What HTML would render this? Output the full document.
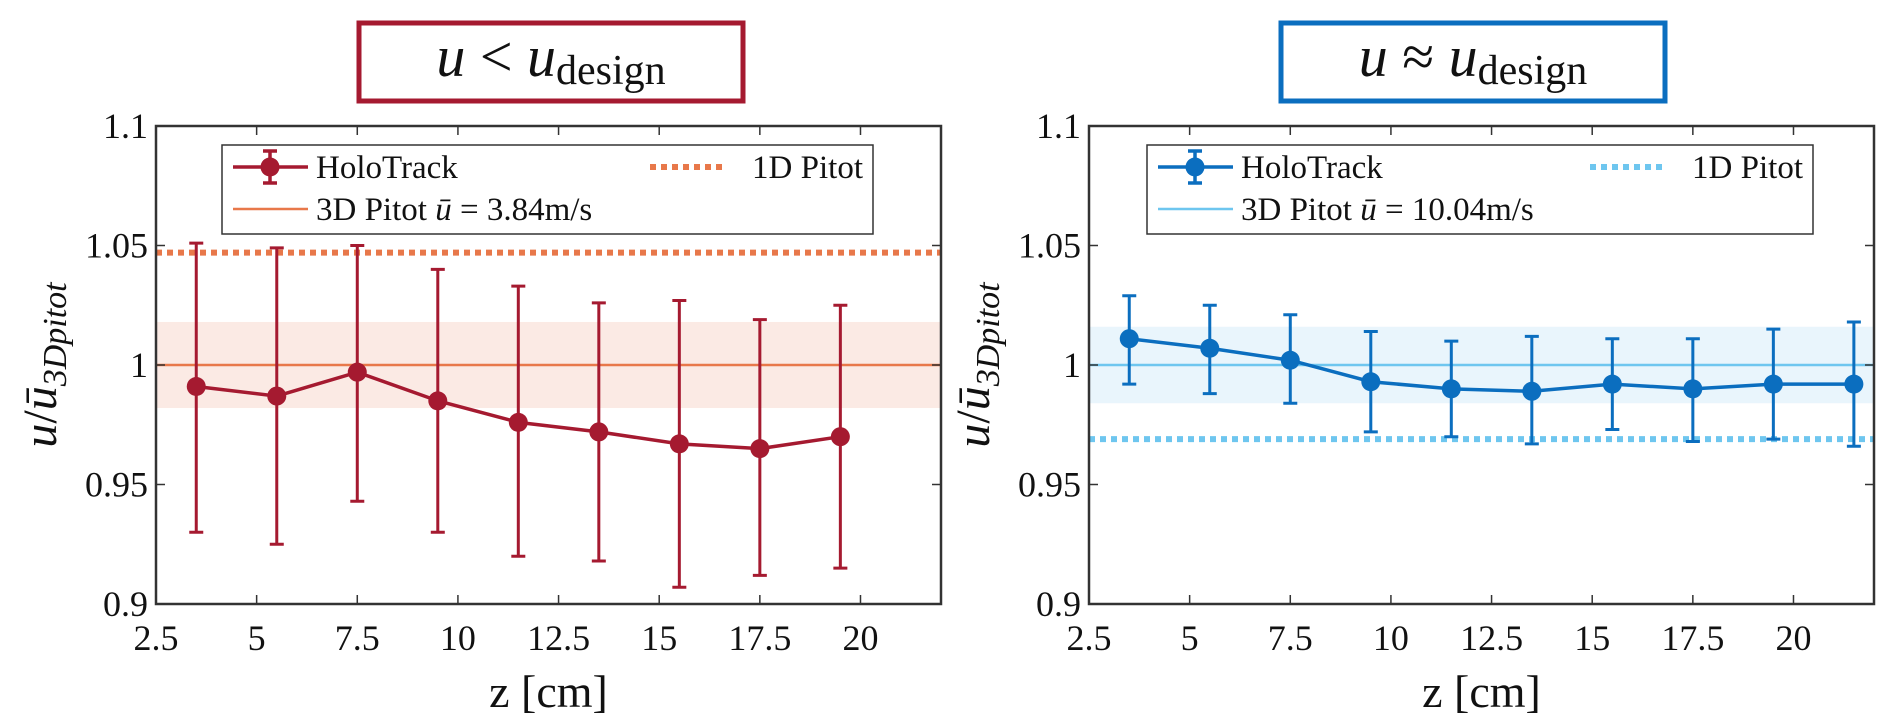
<!DOCTYPE html>
<html><head><meta charset="utf-8"><style>
html,body{margin:0;padding:0;background:#fff;}
svg{display:block;font-family:"Liberation Serif",serif;}
</style></head><body>
<svg id="root" width="1892" height="727" viewBox="0 0 1892 727" xmlns="http://www.w3.org/2000/svg">
</svg>
<script>
const xTicks=[2.5,5,7.5,10,12.5,15,17.5,20];
const yTicks=[0.9,0.95,1,1.05,1.1];
const yTickLabels=["0.9","0.95","1","1.05","1.1"];
const leftZ=[3.5,5.5,7.5,9.5,11.5,13.5,15.5,17.5,19.5];
const leftMean=[0.991,0.987,0.997,0.985,0.976,0.972,0.967,0.965,0.970];
const leftUpper=[1.051,1.049,1.050,1.040,1.033,1.026,1.027,1.019,1.025];
const leftLower=[0.930,0.925,0.943,0.930,0.920,0.918,0.907,0.912,0.915];
const leftBand=[0.982,1.018];
const leftPitot1D=[1.047];
const rightZ=[3.5,5.5,7.5,9.5,11.5,13.5,15.5,17.5,19.5,21.5];
const rightMean=[1.011,1.007,1.002,0.993,0.990,0.989,0.992,0.990,0.992,0.992];
const rightUpper=[1.029,1.025,1.021,1.014,1.010,1.012,1.011,1.011,1.015,1.018];
const rightLower=[0.992,0.988,0.984,0.972,0.970,0.967,0.973,0.968,0.969,0.966];
const rightBand=[0.984,1.016];
const rightPitot1D=[0.969];

const NS="http://www.w3.org/2000/svg";
const root=document.getElementById('root');
function mk(tag,attrs,parent,text){const e=document.createElementNS(NS,tag);for(const k in attrs)e.setAttribute(k,attrs[k]);if(text!==undefined)e.textContent=text;(parent||root).appendChild(e);return e;}

function panel(cfg){
  const L=cfg.x0,R=cfg.x0+785,T=126,B=604;
  const sx=v=>L+(v-2.5)/(22-2.5)*(R-L);
  const sy=v=>B-(v-0.9)/(0.2)*(B-T);
  const g=mk('g',{});
  
  
  const band=mk('rect',{x:L,y:sy(cfg.band[1]),width:R-L,height:sy(cfg.band[0])-sy(cfg.band[1]),fill:cfg.bandColor},g);
  
  
  const p3=mk('line',{x1:L,x2:R,y1:sy(1),y2:sy(1),stroke:cfg.light,'stroke-width':2.5},g);
  
  
  const p1=mk('line',{x1:L,x2:R,y1:sy(cfg.p1d[0]),y2:sy(cfg.p1d[0]),stroke:cfg.light,'stroke-width':6,'stroke-dasharray':'6 5'},g);
  
  
  let d='';
  cfg.z.forEach((z,i)=>{d+=(i?'L':'M')+sx(z)+' '+sy(cfg.mean[i]);});
  const ln=mk('path',{d:d,fill:'none',stroke:cfg.dark,'stroke-width':3.5},g);
  
  
  cfg.z.forEach((z,i)=>{
    const x=sx(z);
    const eb=mk('path',{d:`M${x} ${sy(cfg.up[i])}V${sy(cfg.lo[i])}M${x-7} ${sy(cfg.up[i])}H${x+7}M${x-7} ${sy(cfg.lo[i])}H${x+7}`,stroke:cfg.dark,'stroke-width':3,fill:'none'},g);
    
    
    const c=mk('circle',{cx:x,cy:sy(cfg.mean[i]),r:9.5,fill:cfg.dark},g);
    
    
  });
  const ax=mk('rect',{x:L,y:T,width:R-L,height:B-T,fill:'none',stroke:'#333','stroke-width':2.5},g);
  
  
  xTicks.forEach(t=>{
    const x=sx(t);
    mk('path',{d:`M${x} ${B}v-9M${x} ${T}v9`,stroke:'#333','stroke-width':1.5},g);
    const tl=mk('text',{x:x,y:B+46,'font-size':36,'text-anchor':'middle',fill:'#111'},g,String(t));
    
    
  });
  yTicks.forEach((t,i)=>{
    const y=sy(t);
    mk('path',{d:`M${L} ${y}h9M${R} ${y}h-9`,stroke:'#333','stroke-width':1.5},g);
    const tl=mk('text',{x:L-8,y:y+12,'font-size':36,'text-anchor':'end',fill:'#111'},g,yTickLabels[i]);
    
    
  });
  const xl=mk('text',{x:(L+R)/2,y:707,'font-size':46,'text-anchor':'middle',fill:'#111'},g,'z [cm]');
  
  
  const yl=mk('text',{transform:`translate(${L-100},${(T+B)/2}) rotate(-90)`,'font-size':48,'text-anchor':'middle',fill:'#111'},g);
  
  
  mk('tspan',{'font-style':'italic'},yl,'u');
  mk('tspan',{},yl,'/');
  mk('tspan',{'font-style':'italic'},yl,'ū');
  mk('tspan',{'font-size':34,dy:10,'font-style':'italic'},yl,'3Dpitot');
  const lg=mk('g',{},g);
  
  
  const lx=cfg.legX;
  mk('rect',{x:lx,y:145,width:cfg.legW,height:89,fill:'#fff',stroke:'#333','stroke-width':1.5},lg);
  mk('path',{d:`M${lx+11} 167H${lx+86}M${lx+48} 151V183M${lx+41} 151H${lx+55}M${lx+41} 183H${lx+55}`,stroke:cfg.dark,'stroke-width':3.5,fill:'none'},lg);
  mk('circle',{cx:lx+48,cy:167,r:9.5,fill:cfg.dark},lg);
  mk('text',{x:lx+94,y:178,'font-size':33,fill:'#111'},lg,'HoloTrack');
  mk('line',{x1:lx+11,x2:lx+86,y1:209,y2:209,stroke:cfg.light,'stroke-width':2.5},lg);
  const t3=mk('text',{x:lx+94,y:220,'font-size':33,fill:'#111'},lg,'3D Pitot ');
  mk('tspan',{'font-style':'italic'},t3,'ū');
  mk('tspan',{},t3,' = '+cfg.speed+'m/s');
  mk('line',{x1:lx+cfg.legW-223,x2:lx+cfg.legW-150,y1:167,y2:167,stroke:cfg.light,'stroke-width':6,'stroke-dasharray':'6 5'},lg);
  mk('text',{x:lx+cfg.legW-10,y:178,'font-size':33,'text-anchor':'end',fill:'#111'},lg,'1D Pitot');
  const tb=mk('g',{},g);
  
  
  mk('rect',{x:cfg.tbx,y:23,width:384,height:78,fill:'#fff',stroke:cfg.dark,'stroke-width':5},tb);
  const tt=mk('text',{x:cfg.tbx+192,y:76,'font-size':58,'text-anchor':'middle',fill:'#111'},tb);
  mk('tspan',{'font-style':'italic'},tt,'u');
  mk('tspan',{},tt,' '+cfg.rel+' ');
  mk('tspan',{'font-style':'italic'},tt,'u');
  mk('tspan',{'font-size':42,dy:8},tt,'design');
}
panel({name:'left',x0:156,z:leftZ,mean:leftMean,up:leftUpper,lo:leftLower,band:leftBand,p1d:leftPitot1D,
  dark:'#a51a30',light:'#e8784a',bandColor:'#fbeae4',legX:222,legW:651,speed:'3.84',tbx:359,rel:'<'});
panel({name:'right',x0:1089,z:rightZ,mean:rightMean,up:rightUpper,lo:rightLower,band:rightBand,p1d:rightPitot1D,
  dark:'#0b6ebf',light:'#6ec6ef',bandColor:'#e9f5fc',legX:1147,legW:666,speed:'10.04',tbx:1281,rel:'≈'});
</script>
</body></html>
